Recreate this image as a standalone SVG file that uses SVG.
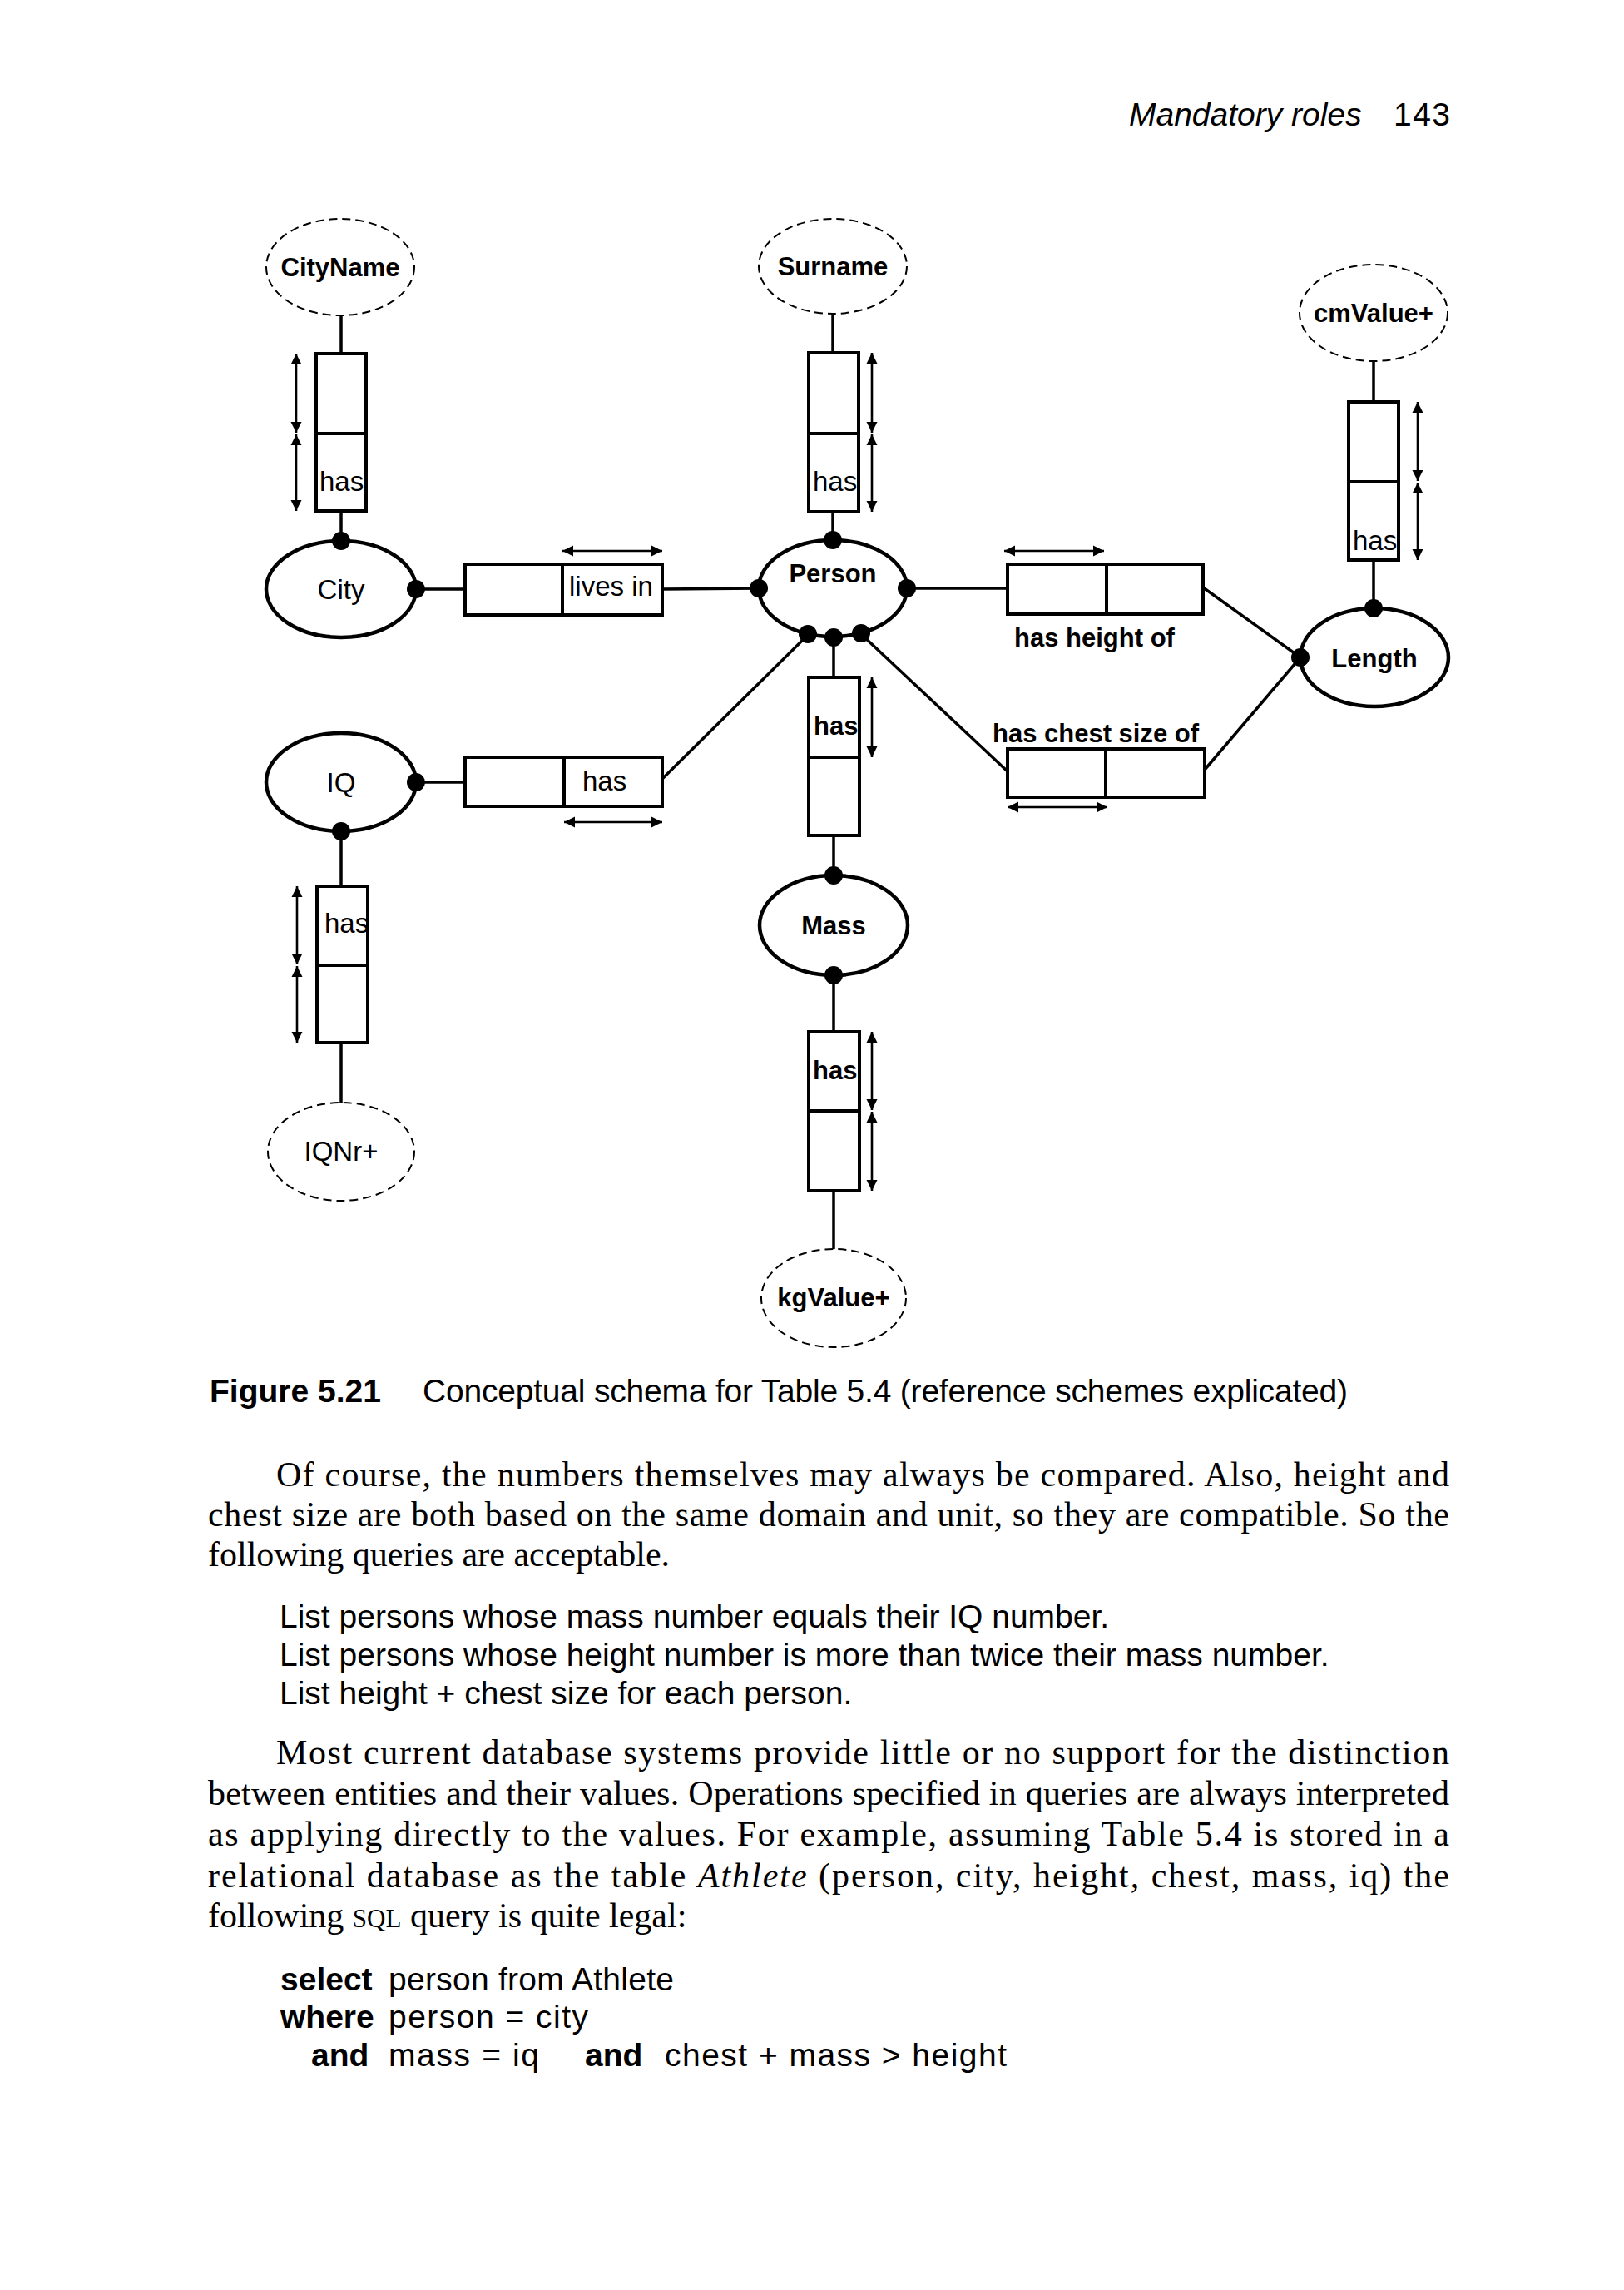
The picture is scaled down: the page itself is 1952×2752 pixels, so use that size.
<svg xmlns="http://www.w3.org/2000/svg" width="1952" height="2752" viewBox="0 0 1952 2752">
<style>
.ent{fill:#fff;stroke:#000;stroke-width:4.5}
.val{fill:#fff;stroke:#000;stroke-width:2;stroke-dasharray:10 6}
.role{fill:#fff;stroke:#000;stroke-width:4}
.div{stroke:#000;stroke-width:4}
.con{stroke:#000;stroke-width:3.5;fill:none}
.uc{stroke:#000;stroke-width:2.6;marker-start:url(#ah);marker-end:url(#ah)}
.dot{fill:#000}
.lbl{font-family:"Liberation Sans",Arial,sans-serif;font-size:33px;fill:#000}
.lblb{font-family:"Liberation Sans",Arial,sans-serif;font-size:31px;font-weight:bold;fill:#000}
.mid{text-anchor:middle}
.serif{font-family:"Liberation Serif","Times New Roman",serif;font-size:42px;fill:#000}
.sans{font-family:"Liberation Sans",Arial,sans-serif;font-size:39px;fill:#000}
.b{font-weight:bold}
</style>
<defs>
<marker id="ah" viewBox="0 0 10 10" refX="10" refY="5" markerWidth="13" markerHeight="15" markerUnits="userSpaceOnUse" orient="auto-start-reverse"><path d="M0,0 L10,5 L0,10 z" fill="#000"/></marker>
</defs>
<rect width="1952" height="2752" fill="#fff"/>

<g id="header">
<text class="sans" x="1357" y="151" font-size="38" font-style="italic">Mandatory roles</text>
<text class="sans" x="1675" y="151" font-size="38" textLength="68" lengthAdjust="spacing">143</text>
</g>

<g id="connectors">
<line class="con" x1="410" y1="379" x2="410" y2="425"/>
<line class="con" x1="410" y1="614" x2="410" y2="650"/>
<line class="con" x1="500" y1="708" x2="559" y2="708"/>
<line class="con" x1="796" y1="708" x2="912" y2="707"/>
<line class="con" x1="1001" y1="378" x2="1001" y2="424"/>
<line class="con" x1="1001" y1="615" x2="1001" y2="649"/>
<line class="con" x1="1090" y1="707" x2="1211" y2="707"/>
<line class="con" x1="1446" y1="706" x2="1563" y2="790"/>
<line class="con" x1="1448" y1="925" x2="1563" y2="790"/>
<line class="con" x1="1035" y1="762" x2="1211" y2="927"/>
<line class="con" x1="971" y1="763" x2="796" y2="936"/>
<line class="con" x1="1002" y1="767" x2="1002" y2="814"/>
<line class="con" x1="1002" y1="1004" x2="1002" y2="1052"/>
<line class="con" x1="1002" y1="1172" x2="1002" y2="1240"/>
<line class="con" x1="1002" y1="1431" x2="1002" y2="1501"/>
<line class="con" x1="1651" y1="434" x2="1651" y2="483"/>
<line class="con" x1="1651" y1="673" x2="1651" y2="731"/>
<line class="con" x1="500" y1="940" x2="559" y2="940"/>
<line class="con" x1="410" y1="999" x2="410" y2="1065"/>
<line class="con" x1="410" y1="1253" x2="410" y2="1325"/>
</g>

<g id="uniqueness">
<line class="uc" x1="356" y1="425" x2="356" y2="520"/>
<line class="uc" x1="356" y1="522" x2="356" y2="614"/>
<line class="uc" x1="1048" y1="424" x2="1048" y2="520"/>
<line class="uc" x1="1048" y1="522" x2="1048" y2="615"/>
<line class="uc" x1="1704" y1="483" x2="1704" y2="578"/>
<line class="uc" x1="1704" y1="580" x2="1704" y2="673"/>
<line class="uc" x1="1048" y1="814" x2="1048" y2="910"/>
<line class="uc" x1="1048" y1="1240" x2="1048" y2="1334"/>
<line class="uc" x1="1048" y1="1336" x2="1048" y2="1431"/>
<line class="uc" x1="357" y1="1065" x2="357" y2="1159"/>
<line class="uc" x1="357" y1="1161" x2="357" y2="1253"/>
<line class="uc" x1="676" y1="662" x2="796" y2="662"/>
<line class="uc" x1="1207" y1="662" x2="1327" y2="662"/>
<line class="uc" x1="1211" y1="970" x2="1331" y2="970"/>
<line class="uc" x1="678" y1="988" x2="796" y2="988"/>
</g>

<g id="CityName">
<ellipse class="val" cx="409" cy="321" rx="89" ry="58"/>
<text class="lblb mid" x="409" y="332">CityName</text>
</g>
<g id="Surname">
<ellipse class="val" cx="1001" cy="320" rx="89" ry="57"/>
<text class="lblb mid" x="1001" y="331">Surname</text>
</g>
<g id="cmValue">
<ellipse class="val" cx="1651" cy="376" rx="89" ry="58"/>
<text class="lblb mid" x="1651" y="387">cmValue+</text>
</g>
<g id="IQNr">
<ellipse class="val" cx="410" cy="1384" rx="88" ry="59"/>
<text class="lbl mid" x="410" y="1395">IQNr+</text>
</g>
<g id="kgValue">
<ellipse class="val" cx="1002" cy="1560" rx="87" ry="59"/>
<text class="lblb mid" x="1002" y="1570">kgValue+</text>
</g>

<g id="City">
<ellipse class="ent" cx="410" cy="708" rx="90" ry="58"/>
<text class="lbl mid" x="410" y="720">City</text>
<circle class="dot" cx="410" cy="650" r="11"/>
<circle class="dot" cx="500" cy="708" r="11"/>
</g>
<g id="Person">
<ellipse class="ent" cx="1001" cy="707" rx="89" ry="58"/>
<text class="lblb mid" x="1001" y="700">Person</text>
<circle class="dot" cx="1001" cy="649" r="11"/>
<circle class="dot" cx="912" cy="707" r="11"/>
<circle class="dot" cx="1090" cy="707" r="11"/>
<circle class="dot" cx="971" cy="762" r="11"/>
<circle class="dot" cx="1002" cy="766" r="11"/>
<circle class="dot" cx="1035" cy="761" r="11"/>
</g>
<g id="Length">
<ellipse class="ent" cx="1652" cy="790" rx="89" ry="59"/>
<text class="lblb mid" x="1652" y="802">Length</text>
<circle class="dot" cx="1651" cy="731" r="11"/>
<circle class="dot" cx="1563" cy="790" r="11"/>
</g>
<g id="IQ">
<ellipse class="ent" cx="410" cy="940" rx="90" ry="59"/>
<text class="lbl mid" x="410" y="952">IQ</text>
<circle class="dot" cx="500" cy="940" r="11"/>
<circle class="dot" cx="410" cy="999" r="11"/>
</g>
<g id="Mass">
<ellipse class="ent" cx="1002" cy="1112" rx="89" ry="60"/>
<text class="lblb mid" x="1002" y="1123">Mass</text>
<circle class="dot" cx="1002" cy="1052" r="11"/>
<circle class="dot" cx="1002" cy="1172" r="11"/>
</g>

<g id="fact-cityname-has">
<rect class="role" x="380" y="425" width="60" height="189"/>
<line class="div" x1="380" y1="521" x2="440" y2="521"/>
<text class="lbl" x="384" y="590">has</text>
</g>
<g id="fact-surname-has">
<rect class="role" x="972" y="424" width="60" height="191"/>
<line class="div" x1="972" y1="521" x2="1032" y2="521"/>
<text class="lbl" x="977" y="590">has</text>
</g>
<g id="fact-cmvalue-has">
<rect class="role" x="1621" y="483" width="60" height="190"/>
<line class="div" x1="1621" y1="579" x2="1681" y2="579"/>
<text class="lbl" x="1626" y="661">has</text>
</g>
<g id="fact-lives-in">
<rect class="role" x="559" y="678" width="237" height="61"/>
<line class="div" x1="676" y1="678" x2="676" y2="739"/>
<text class="lbl" x="684" y="716">lives in</text>
</g>
<g id="fact-height">
<rect class="role" x="1211" y="678" width="235" height="60"/>
<line class="div" x1="1330" y1="678" x2="1330" y2="738"/>
<text class="lblb" x="1219" y="777">has height of</text>
</g>
<g id="fact-chest">
<rect class="role" x="1211" y="900" width="237" height="58"/>
<line class="div" x1="1329" y1="900" x2="1329" y2="958"/>
<text class="lblb" x="1193" y="892">has chest size of</text>
</g>
<g id="fact-iq-has">
<rect class="role" x="559" y="910" width="237" height="59"/>
<line class="div" x1="678" y1="910" x2="678" y2="969"/>
<text class="lbl" x="700" y="950">has</text>
</g>
<g id="fact-mass-has">
<rect class="role" x="972" y="814" width="61" height="190"/>
<line class="div" x1="972" y1="910" x2="1033" y2="910"/>
<text class="lblb" x="978" y="883">has</text>
</g>
<g id="fact-kgvalue-has">
<rect class="role" x="972" y="1240" width="61" height="191"/>
<line class="div" x1="972" y1="1335" x2="1033" y2="1335"/>
<text class="lblb" x="977" y="1297">has</text>
</g>
<g id="fact-iqnr-has">
<rect class="role" x="381" y="1065" width="61" height="188"/>
<line class="div" x1="381" y1="1160" x2="442" y2="1160"/>
<text class="lbl" x="390" y="1121">has</text>
</g>

<g id="caption">
<text class="sans b" x="252" y="1685" font-size="38">Figure 5.21</text>
<text class="sans" x="508" y="1685" font-size="38" textLength="1112" lengthAdjust="spacing">Conceptual schema for Table 5.4 (reference schemes explicated)</text>
</g>

<g id="body">
<text class="serif" x="332" y="1786" textLength="1410" lengthAdjust="spacing">Of course, the numbers themselves may always be compared. Also, height and</text>
<text class="serif" x="250" y="1834" textLength="1492" lengthAdjust="spacing">chest size are both based on the same domain and unit, so they are compatible. So the</text>
<text class="serif" x="250" y="1882">following queries are acceptable.</text>

<text class="sans" x="336" y="1956">List persons whose mass number equals their IQ number.</text>
<text class="sans" x="336" y="2002">List persons whose height number is more than twice their mass number.</text>
<text class="sans" x="336" y="2048">List height + chest size for each person.</text>

<text class="serif" x="332" y="2120" textLength="1410" lengthAdjust="spacing">Most current database systems provide little or no support for the distinction</text>
<text class="serif" x="250" y="2169" textLength="1492" lengthAdjust="spacing">between entities and their values. Operations specified in queries are always interpreted</text>
<text class="serif" x="250" y="2218" textLength="1492" lengthAdjust="spacing">as applying directly to the values. For example, assuming Table 5.4 is stored in a</text>
<text class="serif" x="250" y="2268" textLength="1492" lengthAdjust="spacing">relational database as the table <tspan font-style="italic">Athlete</tspan> (person, city, height, chest, mass, iq) the</text>
<text class="serif" x="250" y="2316">following <tspan font-size="31">SQL</tspan> query is quite legal:</text>

<text class="sans b" x="337" y="2392">select</text>
<text class="sans" x="467" y="2392" textLength="343" lengthAdjust="spacing">person from Athlete</text>
<text class="sans b" x="337" y="2437">where</text>
<text class="sans" x="467" y="2437" textLength="240" lengthAdjust="spacing">person = city</text>
<text class="sans b" x="374" y="2483">and</text>
<text class="sans" x="467" y="2483" textLength="181" lengthAdjust="spacing">mass = iq</text>
<text class="sans b" x="703" y="2483">and</text>
<text class="sans" x="799" y="2483" textLength="411" lengthAdjust="spacing">chest + mass &gt; height</text>
</g>
</svg>
